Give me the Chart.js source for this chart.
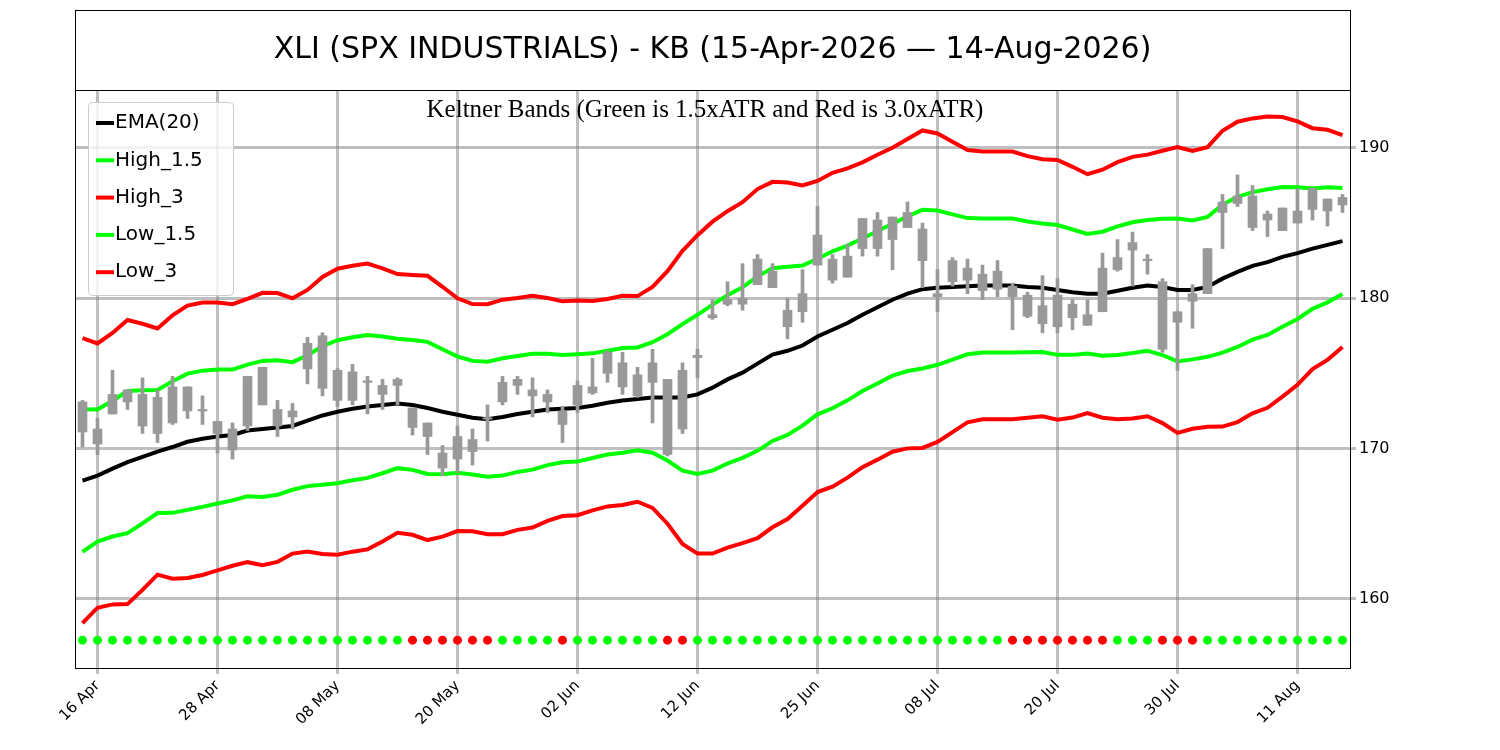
<!DOCTYPE html>
<html>
<head>
<meta charset="utf-8">
<script src="https://cdn.jsdelivr.net/npm/chart.js@4.4.1/dist/chart.umd.min.js"></script>
<style>
  html, body { margin: 0; padding: 0; background: #fff; }
  #wrap { width: 1500px; height: 750px; }
</style>
</head>
<body>
<div id="wrap"><canvas id="chart"></canvas></div>
<script>
// trading days 15-Apr-2026 .. 14-Aug-2026 (US market holidays skipped)
const holidays = ['2026-05-25', '2026-06-19', '2026-07-03'];
const months = ['Jan','Feb','Mar','Apr','May','Jun','Jul','Aug','Sep','Oct','Nov','Dec'];
const dates = [];
for (let d = new Date(Date.UTC(2026, 3, 15)); d <= new Date(Date.UTC(2026, 7, 14)); d.setUTCDate(d.getUTCDate() + 1)) {
    const wd = d.getUTCDay();
    if (wd === 0 || wd === 6) continue;
    if (holidays.includes(d.toISOString().slice(0, 10))) continue;
    dates.push(String(d.getUTCDate()).padStart(2, '0') + ' ' + months[d.getUTCMonth()]);
}

const ema = [167.87,168.2,168.66,169.1,169.45,169.8,170.1,170.45,170.65,170.8,
    170.9,171.2,171.3,171.4,171.5,171.85,172.2,172.45,172.65,172.8,
    172.9,173.0,172.9,172.7,172.45,172.25,172.05,171.95,172.1,172.3,
    172.45,172.6,172.65,172.7,172.85,173.05,173.2,173.3,173.4,173.4,
    173.4,173.6,174.05,174.6,175.05,175.65,176.25,176.5,176.85,177.45,
    177.9,178.35,178.9,179.4,179.9,180.3,180.6,180.7,180.75,180.8,
    180.85,180.85,180.85,180.75,180.7,180.55,180.4,180.3,180.3,180.5,
    180.7,180.85,180.75,180.55,180.55,180.75,181.3,181.75,182.15,182.4,
    182.75,183.0,183.3,183.55,183.8];
const atr = [3.16,2.93,3.01,3.15,2.95,2.73,2.92,3.02,3.02,2.97,
    2.90,2.92,3.02,2.98,2.83,2.90,3.07,3.17,3.17,3.17,
    3.03,2.87,2.88,2.93,2.77,2.58,2.52,2.55,2.60,2.57,
    2.57,2.47,2.38,2.38,2.32,2.30,2.32,2.28,2.45,2.80,
    3.25,3.53,3.68,3.73,3.78,3.87,3.83,3.73,3.55,3.45,
    3.48,3.43,3.38,3.38,3.37,3.43,3.52,3.42,3.22,3.02,
    2.97,2.97,2.97,2.90,2.85,2.88,2.78,2.65,2.75,2.85,
    2.90,2.90,3.02,3.17,3.08,3.10,3.28,3.33,3.27,3.23,
    3.10,2.92,2.67,2.55,2.35];

// candle bodies (top/bottom) and wicks
const bodyTop = [173.1,171.3,173.6,173.9,173.6,173.4,174.1,174.1,172.6,171.8,
    171.3,174.8,175.4,172.6,172.5,177.0,177.5,175.2,175.1,174.5,
    174.2,174.6,172.7,171.7,169.7,170.8,170.6,172.05,174.4,174.6,
    173.9,173.6,172.5,174.2,174.1,176.4,175.7,174.9,175.7,174.6,
    175.2,176.2,178.9,179.9,180.0,182.6,181.8,179.2,180.3,184.2,
    182.6,182.8,185.3,185.2,185.4,185.7,184.6,180.3,182.5,182.0,
    181.6,181.8,180.8,180.2,179.5,180.2,179.6,178.9,182.0,182.7,
    183.7,182.6,181.1,179.1,180.3,183.3,186.4,186.8,186.8,185.6,
    186.0,185.8,187.3,186.6,186.7];
const bodyBot = [171.1,170.3,172.3,173.1,171.5,171.0,171.7,172.5,172.5,171.0,
    169.9,171.5,172.9,171.5,172.1,175.3,174.0,173.2,173.2,174.4,
    173.6,174.2,171.4,170.8,168.7,169.3,169.8,171.95,173.1,174.2,
    173.5,173.1,171.6,172.9,173.7,175.0,174.1,173.5,174.4,169.6,
    171.3,176.05,178.7,179.6,179.6,180.9,180.7,178.1,179.1,182.2,
    181.2,181.4,183.3,183.3,183.9,184.7,182.5,180.1,181.1,181.2,
    180.5,180.6,180.1,178.8,178.3,178.1,178.7,178.2,179.1,181.9,
    183.2,182.5,176.6,178.4,179.8,180.3,185.7,186.3,184.7,185.2,
    184.5,185.0,185.9,185.8,186.2];
const highs = [173.2,172.0,175.2,173.9,174.7,173.9,174.8,174.1,173.5,171.8,
    171.7,174.8,175.4,173.2,173.0,177.4,177.7,175.3,175.6,174.8,
    174.6,174.7,172.7,171.7,170.2,171.5,171.3,172.9,174.8,174.8,
    174.7,173.9,172.8,174.5,176.0,176.5,176.4,175.4,176.6,174.6,
    175.7,176.6,179.9,181.1,182.3,182.9,182.3,180.0,181.9,186.1,
    182.9,183.6,185.3,185.7,185.4,186.4,185.0,181.9,182.7,182.6,
    182.2,182.5,181.0,180.4,181.5,181.3,179.9,179.9,183.0,183.9,
    184.4,182.9,181.3,179.1,180.9,183.3,186.9,188.2,187.5,185.8,
    186.0,187.3,187.3,186.6,186.9];
const lows = [170.1,169.6,172.3,172.6,171.0,170.4,171.6,172.0,171.6,169.7,
    169.3,171.2,172.9,170.8,171.3,174.3,173.5,172.8,172.9,172.3,
    172.6,172.9,170.9,169.6,168.2,168.4,168.9,170.5,172.9,173.6,
    172.1,172.4,170.4,172.4,173.6,174.4,173.6,173.4,171.7,169.5,
    171.0,174.7,178.6,179.5,179.2,180.9,180.7,177.3,178.4,182.2,
    181.0,181.4,182.8,182.8,181.9,184.7,180.7,179.1,180.8,180.3,
    179.9,180.1,177.9,178.7,177.7,177.7,177.9,178.2,179.1,181.8,
    180.8,181.6,176.4,175.2,178.0,180.3,183.3,186.1,184.5,184.1,
    184.5,185.0,185.2,184.8,185.7];

// 1 = red marker (squeeze), 0 = green
const squeeze = [0,0,0,0,0,0,0,0,0,0,0,0,0,0,0,0,0,0,0,0,0,0,1,1,1,1,1,1,0,0,
    0,0,1,0,0,0,0,0,0,1,1,0,0,0,0,0,0,0,0,0,0,0,0,0,0,0,0,0,0,0,
    0,0,1,1,1,1,1,1,1,0,0,0,1,1,1,0,0,0,0,0,0,0,0,0,0];

const yTicks = [160, 170, 180, 190];
const markerLevel = 157.25;

const band = (k) => ema.map((v, i) => v + k * atr[i]);
const GRAY = 'rgba(128,128,128,0.5)';
const lineStyle = { borderWidth: 4, pointRadius: 0, fill: false, tension: 0, order: 2 };

const decor = {
    id: 'decor',
    afterDraw(chart) {
        const ctx = chart.ctx, a = chart.chartArea;
        ctx.save();
        ctx.strokeStyle = '#000';
        ctx.lineWidth = 1;
        ctx.strokeRect(a.left + 0.5, 10.5, a.right - a.left, 80);
        ctx.strokeRect(a.left + 0.5, a.top + 0.5, a.right - a.left, a.bottom - a.top);
        ctx.fillStyle = '#000';
        ctx.textAlign = 'center';
        ctx.textBaseline = 'middle';
        ctx.font = '30px "DejaVu Sans"';
        ctx.fillText('XLI (SPX INDUSTRIALS) - KB (15-Apr-2026 \u2014 14-Aug-2026)', (a.left + a.right) / 2, 50);
        ctx.font = '25px "Liberation Serif"';
        ctx.fillText('Keltner Bands (Green is 1.5xATR and Red is 3.0xATR)', 705, 110);

        // legend
        const items = [['EMA(20)', '#000'], ['High_1.5', '#00ff00'], ['High_3', '#ff0000'],
                       ['Low_1.5', '#00ff00'], ['Low_3', '#ff0000']];
        ctx.fillStyle = 'rgba(255,255,255,0.8)';
        ctx.strokeStyle = '#ccc';
        ctx.beginPath();
        ctx.roundRect(88.5, 102.5, 145, 193, 4);
        ctx.fill();
        ctx.stroke();
        ctx.font = '20px "DejaVu Sans"';
        ctx.textAlign = 'left';
        items.forEach(([txt, col], i) => {
            const y = 123 + i * 37.3;
            ctx.strokeStyle = col;
            ctx.lineWidth = 4;
            ctx.beginPath();
            ctx.moveTo(96, y);
            ctx.lineTo(114, y);
            ctx.stroke();
            ctx.fillStyle = '#000';
            ctx.fillText(txt, 115, y);
        });
        ctx.restore();
    }
};

new Chart(document.getElementById('chart'), {
    type: 'bar',
    data: {
        labels: dates,
        datasets: [
            { type: 'bar', data: dates.map((_, i) => [lows[i], highs[i]]), backgroundColor: '#999',
              barThickness: 3, grouped: false, order: 0 },
            { type: 'bar', data: dates.map((_, i) => [bodyBot[i], bodyTop[i]]), backgroundColor: '#999',
              barThickness: 9, grouped: false, order: 0 },
            { type: 'line', data: ema, borderColor: '#000', ...lineStyle },
            { type: 'line', data: band(1.5), borderColor: '#00ff00', ...lineStyle },
            { type: 'line', data: band(3), borderColor: '#ff0000', ...lineStyle },
            { type: 'line', data: band(-1.5), borderColor: '#00ff00', ...lineStyle },
            { type: 'line', data: band(-3), borderColor: '#ff0000', ...lineStyle },
            { type: 'line', data: dates.map(() => markerLevel), showLine: false, order: 1,
              pointRadius: 4.5, pointBorderWidth: 0,
              pointBackgroundColor: squeeze.map(s => s ? '#ff0000' : '#00ff00') }
        ]
    },
    options: {
        responsive: true,
        maintainAspectRatio: false,
        animation: false,
        layout: { padding: { left: 75, top: 90, right: 0, bottom: 0 } },
        plugins: { legend: { display: false }, tooltip: { enabled: false } },
        scales: {
            x: {
                offset: true,
                grid: { offset: false, lineWidth: 3,
                        color: c => (c.index % 8 === 1 ? GRAY : 'transparent'),
                        drawTicks: true, tickLength: 6 },
                border: { display: false },
                afterFit: s => { s.height = 82; },
                ticks: {
                    autoSkip: false, maxRotation: 45, minRotation: 45,
                    color: '#000', font: { size: 15, family: 'DejaVu Sans' },
                    callback: (v, i) => (i % 8 === 1 ? dates[i] : '')
                }
            },
            y: {
                position: 'right',
                min: 155.4, max: 193.85,
                afterFit: s => { s.width = 150; },
                afterBuildTicks: s => { s.ticks = yTicks.map(v => ({ value: v })); },
                grid: { color: GRAY, lineWidth: 3, tickLength: 6 },
                border: { display: false },
                ticks: { color: '#000', font: { size: 16, family: 'DejaVu Sans' } }
            }
        }
    },
    plugins: [decor]
});
</script>
</body>
</html>
